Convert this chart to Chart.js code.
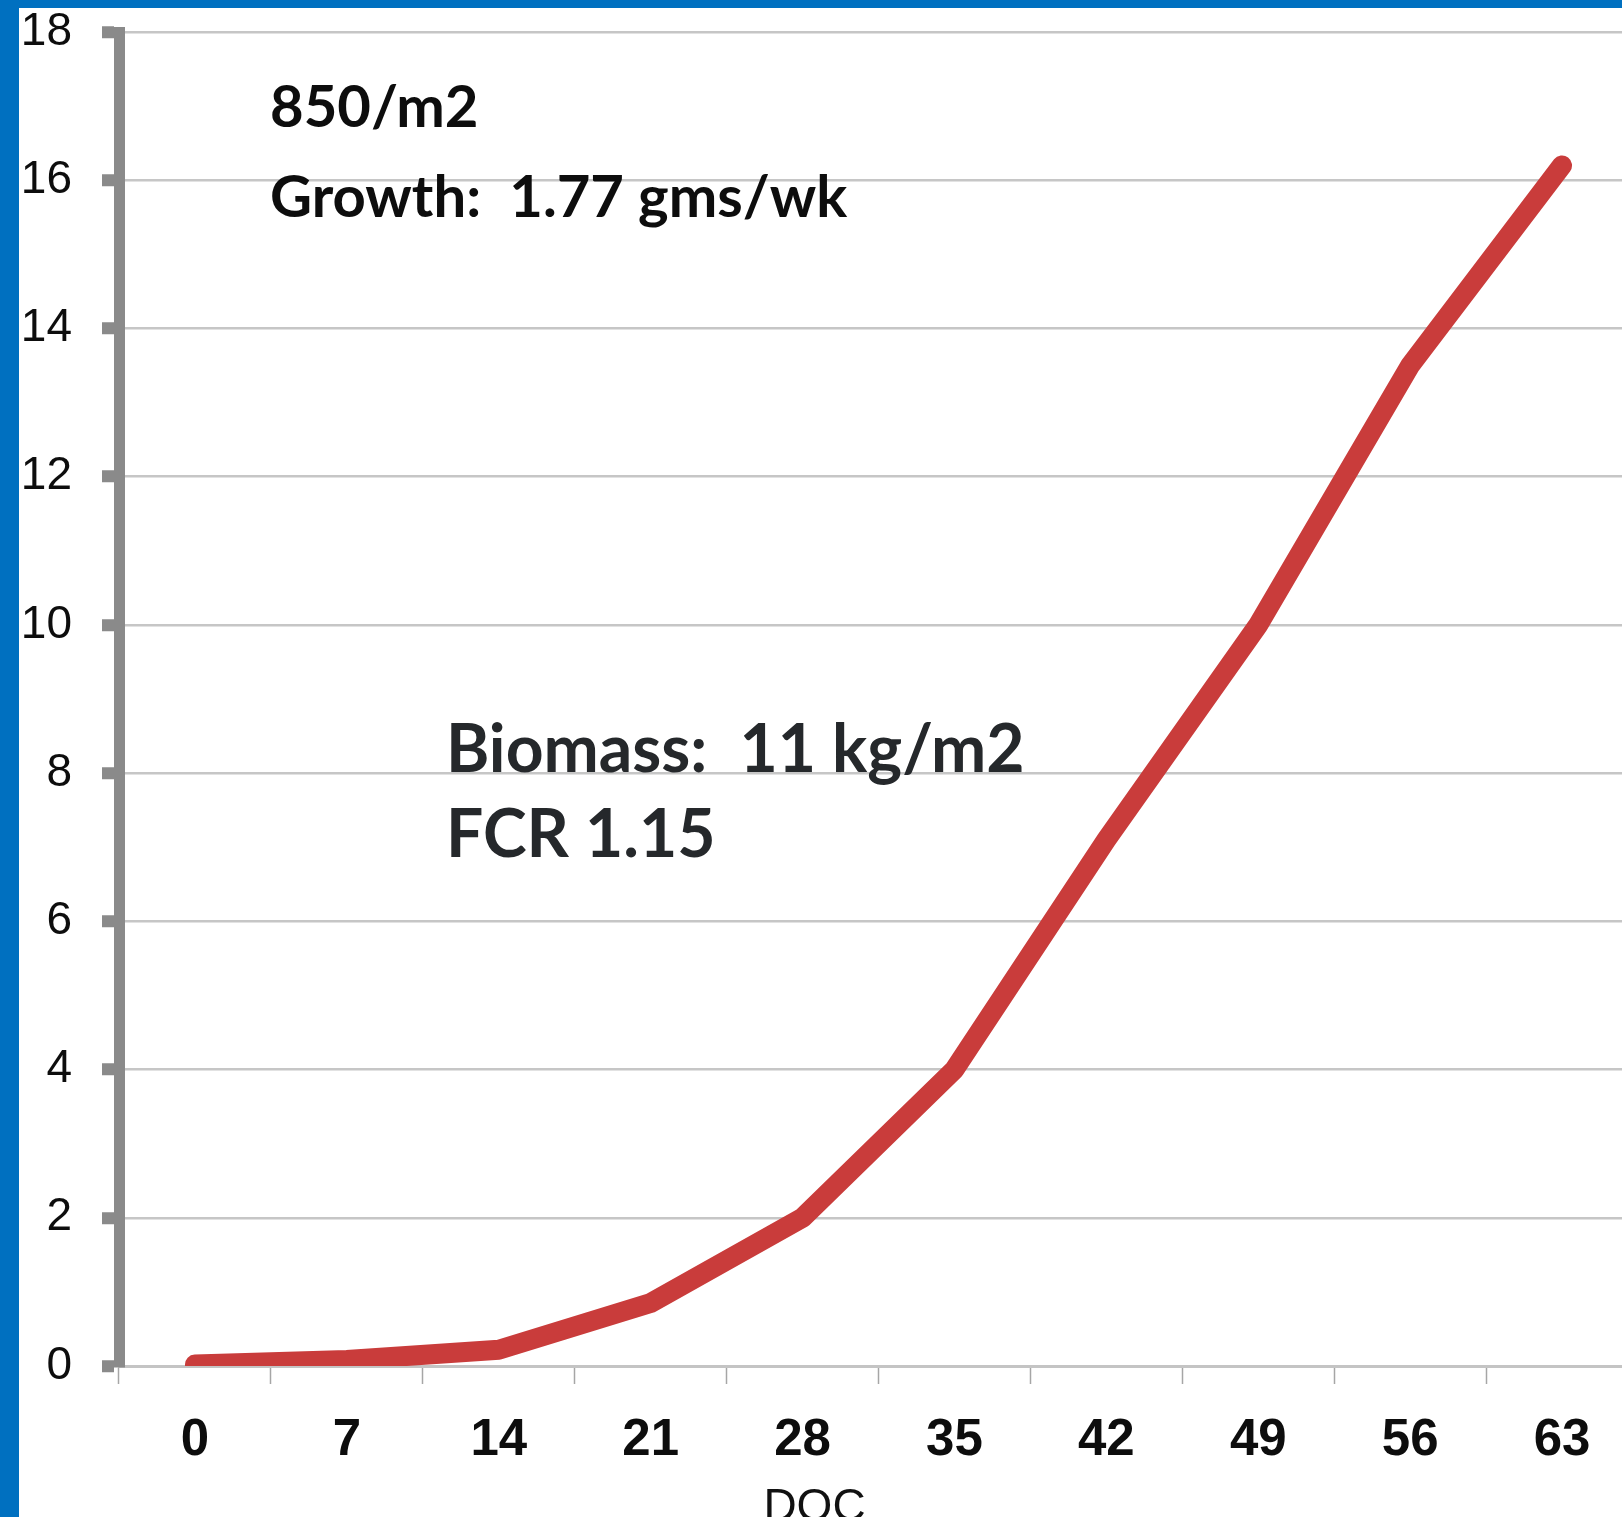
<!DOCTYPE html>
<html>
<head>
<meta charset="utf-8">
<script src="https://cdn.jsdelivr.net/npm/chart.js@4.4.1/dist/chart.umd.min.js"></script>
<style>
  html, body { margin: 0; padding: 0; width: 1622px; height: 1517px; overflow: hidden; background: #ffffff; }
  #wrap { position: absolute; left: 19px; top: 0; width: 1621px; height: 1517px; }
  #c { display: block; }
  .blue { position: absolute; background: #0070c0; z-index: 5; }
</style>
</head>
<body>
<div id="wrap"><canvas id="c" width="1621" height="1517"></canvas></div>
<div class="blue" style="left:0;top:0;width:1622px;height:8px;"></div>
<div class="blue" style="left:0;top:0;width:19px;height:1517px;"></div>
<script>
// ---- data ----
const days = ['0', '7', '14', '21', '28', '35', '42', '49', '56', '63'];
const weightGrams = [0.02, 0.08, 0.22, 0.85, 2.0, 4.0, 7.1, 10.0, 13.5, 16.2];
const yMin = 0;
const yMax = 18;
const yStep = 2;
const xAxisTitle = 'DOC';
const noteTopLines = ['850/m2', 'Growth:  1.77 gms/wk'];
const noteMidLines = ['Biomass:  11 kg/m2', 'FCR 1.15'];

const axisFont = "'Liberation Sans Narrow', 'Liberation Sans', Arial, sans-serif";

const notesPlugin = {
  id: 'notes',
  afterDraw(chart) {
    const ctx = chart.ctx;
    const a = chart.chartArea;
    ctx.save();
    ctx.textAlign = 'left';
    ctx.textBaseline = 'alphabetic';
    ctx.fillStyle = '#0d0d0d';
    ctx.font = "bold 58px Lato, 'Liberation Sans', sans-serif";
    ctx.fillText(noteTopLines[0], a.left + 151, 127);
    ctx.fillText(noteTopLines[1], a.left + 151, 217);
    ctx.fillStyle = '#25282b';
    ctx.font = "bold 66px Lato, 'Liberation Sans', sans-serif";
    ctx.fillText(noteMidLines[0], a.left + 327, 772);
    ctx.fillText(noteMidLines[1], a.left + 327, 857);
    // x axis title
    ctx.textAlign = 'center';
    ctx.fillStyle = '#111111';
    ctx.font = "normal 46px " + axisFont;
    const xs = chart.scales.x;
    ctx.fillText(xAxisTitle, (xs.getPixelForValue(4) + xs.getPixelForValue(5)) / 2 - 64, 1521);
    ctx.restore();
  }
};

new Chart(document.getElementById('c'), {
  type: 'line',
  data: {
    labels: days,
    datasets: [{
      data: weightGrams,
      borderColor: '#c93c3b',
      backgroundColor: '#c93c3b',
      borderWidth: 20,
      borderCapStyle: 'round',
      borderJoinStyle: 'round',
      pointRadius: 0,
      tension: 0,
      clip: 0
    }]
  },
  options: {
    responsive: false,
    animation: false,
    events: [],
    layout: { padding: { top: 32, right: 2, bottom: 0, left: 0 } },
    plugins: { legend: { display: false }, tooltip: { enabled: false }, title: { display: false } },
    scales: {
      x: {
        type: 'category',
        offset: true,
        grid: {
          offset: true,
          drawOnChartArea: false,
          drawTicks: true,
          tickLength: 18,
          tickWidth: 1.5,
          tickColor: '#a6a6a6'
        },
        border: { display: true, color: '#c4c4c4', width: 3 },
        ticks: {
          color: '#0d0d0d',
          font: { family: axisFont, size: 51, weight: 'bold' },
          padding: 26,
          maxRotation: 0,
          autoSkip: false
        },
        afterFit(scale) { scale.height = 151; scale.paddingLeft = 0; scale.paddingRight = 0; }
      },
      y: {
        min: yMin,
        max: yMax,
        grid: {
          color: '#c6c6c6',
          lineWidth: 2.5,
          drawTicks: true,
          tickLength: 17,
          tickWidth: 12,
          tickColor: '#8a8a8a'
        },
        border: { display: true, color: '#8a8a8a', width: 11 },
        ticks: {
          stepSize: yStep,
          color: '#0d0d0d',
          font: { family: axisFont, size: 46, weight: 'normal' },
          padding: 30
        },
        afterFit(scale) { scale.width = 100; scale.paddingTop = 0; scale.paddingBottom = 0; }
      }
    }
  },
  plugins: [notesPlugin]
});
</script>
</body>
</html>
